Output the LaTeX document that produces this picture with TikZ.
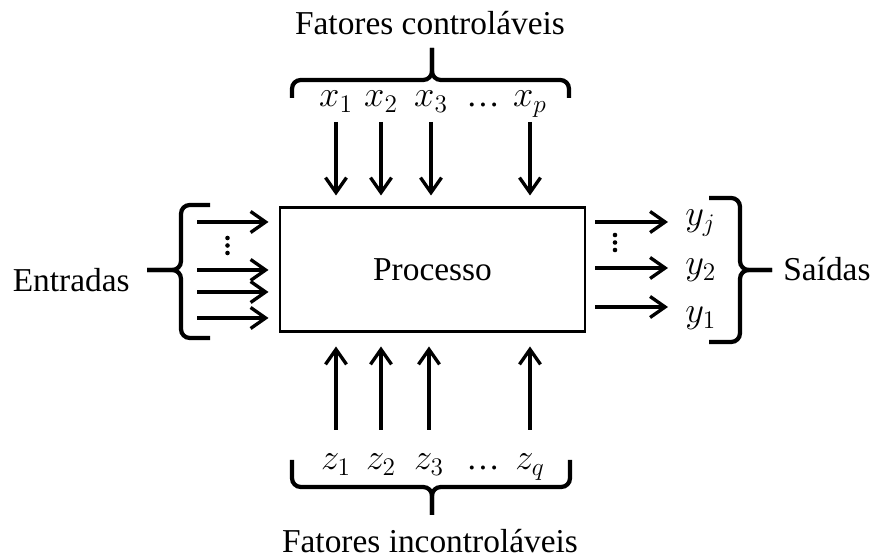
\documentclass[tikz,border=0pt]{standalone}
\usepackage{amsmath}
\usepackage{fontspec}
\setmainfont{Liberation Serif}
\usetikzlibrary{arrows.meta}
\usetikzlibrary{positioning}
\tikzset{flow/.style = {-{Straight Barb[length=3mm, width=4.2mm]}, line width=1.9pt}}
\tikzset{brc/.style = {line width=2.4pt, rounded corners=5pt}}
\tikzset{var/.style = {inner sep=0, anchor=base, font=\fontsize{22}{26}\selectfont}}
\tikzset{txt/.style = {inner sep=0, font=\fontsize{19}{22}\selectfont}}
\tikzset{dot/.style = {fill, circle, inner sep=0, minimum size=2.6pt}}

\begin{document}
\begin{tikzpicture}
    \useasboundingbox (0, 0) rectangle (17.46, 11.18);

    \node [txt, draw, line width=1.7pt, minimum width=6.1cm, minimum height=2.48cm] (proc) at (8.65, 5.78) {Processo};

    % controllable factors
    \node [txt, anchor=base] (ctrl) at (8.6, 10.48) {Fatores controláveis};
    \draw [brc] (5.84, 9.22) -- (5.84, 9.58) -- (8.64, 9.58) -- (8.64, 10.22);
    \draw [brc] (8.64, 10.22) -- (8.64, 9.58) -- (11.38, 9.58) -- (11.38, 9.22);

    \node [var] (x1) at (6.72, 9.04) {$x_1$};
    \node [var] (x2) at (7.62, 9.04) {$x_2$};
    \node [var] (x3) at (8.62, 9.04) {$x_3$};
    \node [txt, anchor=base] (xdots) at (9.66, 9.04) {\ldots};
    \node [var] (xp) at (10.6, 9.04) {$x_p$};

    \draw [flow, shorten >=0.22cm] ([yshift=-0.3cm]x1.base) -- (x1.base |- proc.north);
    \draw [flow, shorten >=0.22cm] ([yshift=-0.3cm]x2.base) -- (x2.base |- proc.north);
    \draw [flow, shorten >=0.22cm] ([yshift=-0.3cm]x3.base) -- (x3.base |- proc.north);
    \draw [flow, shorten >=0.22cm] ([yshift=-0.3cm]xp.base) -- (xp.base |- proc.north);

    % uncontrollable factors
    \node [txt, anchor=base] (unctrl) at (8.6, 0.12) {Fatores incontroláveis};
    \draw [brc] (5.84, 1.98) -- (5.84, 1.44) -- (8.64, 1.44) -- (8.64, 0.88);
    \draw [brc] (8.64, 0.88) -- (8.64, 1.44) -- (11.4, 1.44) -- (11.4, 1.98);

    \node [var] (z1) at (6.72, 1.78) {$z_1$};
    \node [var] (z2) at (7.62, 1.78) {$z_2$};
    \node [var] (z3) at (8.58, 1.78) {$z_3$};
    \node [txt, anchor=base] (zdots) at (9.66, 1.78) {\ldots};
    \node [var] (zq) at (10.6, 1.78) {$z_q$};

    \draw [flow, shorten >=0.26cm] ([yshift=0.8cm]z1.base) -- (z1.base |- proc.south);
    \draw [flow, shorten >=0.26cm] ([yshift=0.8cm]z2.base) -- (z2.base |- proc.south);
    \draw [flow, shorten >=0.26cm] ([yshift=0.8cm]z3.base) -- (z3.base |- proc.south);
    \draw [flow, shorten >=0.26cm] ([yshift=0.8cm]zq.base) -- (zq.base |- proc.south);

    % inputs
    \node [txt, anchor=east] (inp) at (2.6, 5.58) {Entradas};
    \draw [brc] (4.2, 7.08) -- (3.62, 7.08) -- (3.62, 5.78) -- (2.94, 5.78);
    \draw [brc] (2.94, 5.78) -- (3.62, 5.78) -- (3.62, 4.42) -- (4.2, 4.42);

    \coordinate (in1) at (3.94, 6.74);
    \coordinate (in2) at (3.94, 5.78);
    \coordinate (in3) at (3.94, 5.34);
    \coordinate (in4) at (3.94, 4.82);
    \node [dot] at (4.55, 6.42) {};
    \node [dot] at (4.55, 6.27) {};
    \node [dot] at (4.55, 6.12) {};

    \draw [flow, shorten >=0.2cm] (in1) -- (in1 -| proc.west);
    \draw [flow, shorten >=0.2cm] (in2) -- (in2 -| proc.west);
    \draw [flow, shorten >=0.2cm] (in3) -- (in3 -| proc.west);
    \draw [flow, shorten >=0.2cm] (in4) -- (in4 -| proc.west);

    % outputs
    \coordinate (outj) at (13.36, 6.74);
    \coordinate (out2) at (13.36, 5.82);
    \coordinate (out1) at (13.36, 5.04);
    \node [dot] at (12.3, 6.48) {};
    \node [dot] at (12.3, 6.33) {};
    \node [dot] at (12.3, 6.18) {};

    \draw [flow, shorten <=0.18cm] (outj -| proc.east) -- (outj);
    \draw [flow, shorten <=0.18cm] (out2 -| proc.east) -- (out2);
    \draw [flow, shorten <=0.18cm] (out1 -| proc.east) -- (out1);

    \node [var, anchor=base west] (yj) at (13.7, 6.66) {$y_j$};
    \node [var, anchor=base west] (y2) at (13.7, 5.68) {$y_2$};
    \node [var, anchor=base west] (y1) at (13.7, 4.72) {$y_1$};

    \draw [brc] (14.18, 7.22) -- (14.8, 7.22) -- (14.8, 5.78) -- (15.44, 5.78);
    \draw [brc] (15.44, 5.78) -- (14.8, 5.78) -- (14.8, 4.34) -- (14.18, 4.34);
    \node [txt, anchor=west] (out) at (15.66, 5.8) {Saídas};
\end{tikzpicture}
\end{document}
